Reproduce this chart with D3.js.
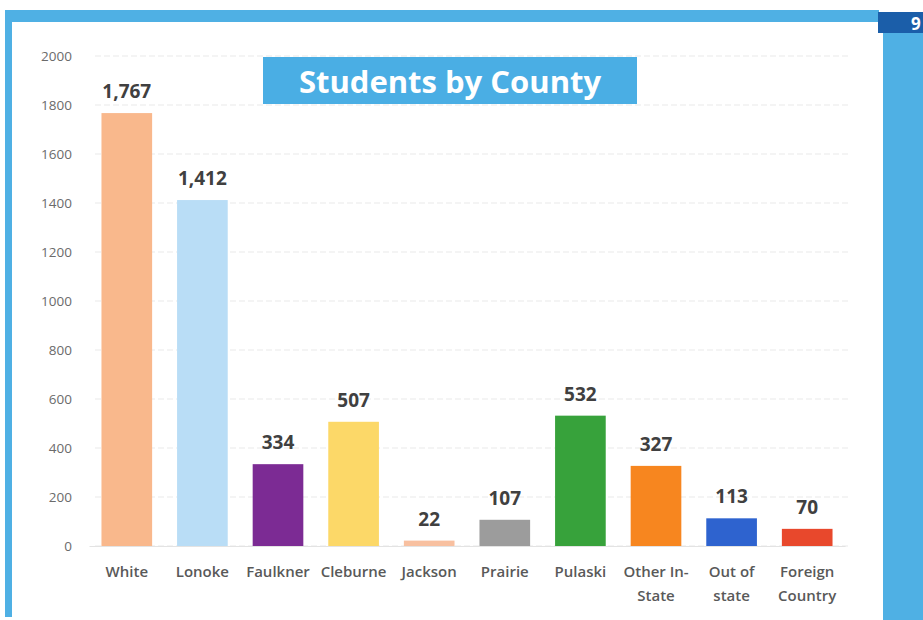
<!DOCTYPE html>
<html><head><meta charset="utf-8">
<script src="https://cdn.jsdelivr.net/npm/d3@7"></script>
<style>body{margin:0;background:#fff}svg{display:block}</style>
</head><body>
<svg id="c" width="923" height="620"></svg>
<script>
const categories = ["White","Lonoke","Faulkner","Cleburne","Jackson","Prairie","Pulaski","Other In-State","Out of state","Foreign Country"];
const categoryLines = [["White"],["Lonoke"],["Faulkner"],["Cleburne"],["Jackson"],["Prairie"],["Pulaski"],["Other In-","State"],["Out of","state"],["Foreign","Country"]];
const values = [1767,1412,334,507,22,107,532,327,113,70];
const valueLabels = ["1,767","1,412","334","507","22","107","532","327","113","70"];
const colors = ["#f9b88c","#b9ddf6","#7c2b94","#fcd868","#f8c0a0","#9c9c9c","#37a23b","#f7861f","#2e63cf","#e8482c"];
const yTicks = [0,200,400,600,800,1000,1200,1400,1600,1800,2000];
const title = "Students by County";

const svg = d3.select("#c");
const frame = "#4fb0e4";
// frame decorations
svg.append("rect").attr("x",5).attr("y",10).attr("width",874).attr("height",12).attr("fill",frame);
svg.append("rect").attr("x",5).attr("y",10).attr("width",7).attr("height",607).attr("fill",frame);
svg.append("rect").attr("x",883).attr("y",32).attr("width",40).attr("height",588).attr("fill",frame);
svg.append("rect").attr("x",878).attr("y",12).attr("width",45).attr("height",21).attr("fill","#1b5ea9");
svg.append("text").attr("x",911).attr("y",30).attr("fill","#fff").attr("font-family","Open Sans").attr("font-weight","bold").attr("font-size",17).text("9");

const x = d3.scaleBand().domain(categories).range([89,845]).paddingInner(0.33).paddingOuter(0.165);
const y = d3.scaleLinear().domain([0,2000]).range([546,56]);

// gridlines
svg.append("g").selectAll("line").data(yTicks).join("line")
  .attr("x1",95).attr("x2",850).attr("y1",d=>y(d)).attr("y2",d=>y(d))
  .attr("stroke","#e9e9e9").attr("stroke-width",1).attr("stroke-dasharray","6,3");

// y axis
const ya = svg.append("g").attr("transform","translate(72,0)")
  .call(d3.axisLeft(y).tickValues(yTicks).tickSize(0).tickPadding(0).tickFormat(d3.format("d")));
ya.select(".domain").remove();
ya.selectAll("text").attr("font-family","Open Sans").attr("font-size",13.5).attr("fill","#6b6b6b");

// bars
svg.append("g").selectAll("rect").data(categories).join("rect")
  .attr("x",d=>x(d)).attr("width",x.bandwidth())
  .attr("y",(d,i)=>y(values[i])).attr("height",(d,i)=>y(0)-y(values[i]))
  .attr("fill",(d,i)=>colors[i]);

// value labels
svg.append("g").selectAll("text").data(categories).join("text")
  .attr("x",d=>x(d)+x.bandwidth()/2).attr("y",(d,i)=>y(values[i])-15)
  .attr("text-anchor","middle").attr("font-family","Open Sans").attr("font-weight","bold")
  .attr("font-size",19).attr("fill","#404040").text((d,i)=>valueLabels[i]);

// x axis labels
const xa = svg.append("g").attr("transform","translate(0,546)")
  .call(d3.axisBottom(x).tickSize(0).tickFormat(""));
xa.select(".domain").attr("stroke","#e3e3e3");
const xl = svg.append("g").selectAll("text").data(categories).join("text")
  .attr("x",d=>x(d)+x.bandwidth()/2).attr("y",577)
  .attr("text-anchor","middle").attr("font-family","Open Sans").attr("font-weight","600")
  .attr("font-size",15).attr("fill","#595959");
xl.each(function(d,i){
  const t=d3.select(this);
  categoryLines[i].forEach((l,j)=>t.append("tspan").attr("x",x(d)+x.bandwidth()/2).attr("dy",j?24:0).text(l));
});

// title box
svg.append("rect").attr("x",263).attr("y",57).attr("width",374).attr("height",47).attr("fill","#4aaee4");
svg.append("text").attr("x",450).attr("y",93).attr("text-anchor","middle").attr("font-family","Open Sans")
  .attr("font-weight","bold").attr("font-size",31).attr("fill","#fff").text(title);
</script>
</body></html>
